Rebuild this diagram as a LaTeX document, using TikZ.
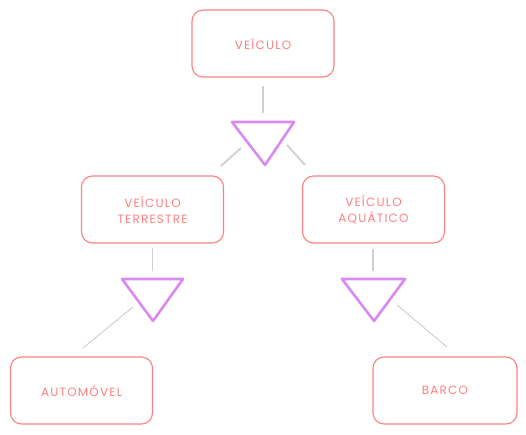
\documentclass[tikz,border=0pt]{standalone}
\usepackage{fontspec}
\setmainfont{Poppins}[LetterSpace=10]
\definecolor{boxred}{HTML}{FF7F7F}
\definecolor{trivio}{HTML}{D88AF2}
\definecolor{lgray}{HTML}{CFCFCF}
\tikzset{
  box/.style={draw=boxred, line width=1.1pt, rounded corners=11pt, minimum width=142pt, minimum height=67pt, inner sep=0pt, text=boxred, font=\fontsize{12}{16}\selectfont, align=center},
  tri/.style={draw=trivio, line width=2.6pt, line join=round},
  conn/.style={draw=lgray, line width=1.8pt},
  thinconn/.style={draw=lgray, line width=1pt}
}
\begin{document}
\begin{tikzpicture}[x=1pt,y=-1pt]
\useasboundingbox (0,0) rectangle (526,434);
% boxes
\node[box] (veic) at (263,43.5) {VEÍCULO};
\node[box] (terr) at (152.5,209.5) {VEÍCULO\\TERRESTRE};
\node[box] (aqua) at (373.5,209.5) {VEÍCULO\\AQUÁTICO};
\node[box] (auto) at (81.5,390.5) {AUTOMÓVEL};
\node[box, minimum width=144pt] (barco) at (445,390.5) {BARCO};
% triangles
\coordinate (t1a) at (232,122); \coordinate (t1b) at (294,122); \coordinate (t1c) at (265,165);
\draw[tri] (t1a) -- (t1b) -- (t1c) -- cycle;
\coordinate (t2a) at (122,279); \coordinate (t2b) at (183,279); \coordinate (t2c) at (153,321);
\draw[tri] (t2a) -- (t2b) -- (t2c) -- cycle;
\coordinate (t3a) at (342,279); \coordinate (t3b) at (405,279); \coordinate (t3c) at (374,321);
\draw[tri] (t3a) -- (t3b) -- (t3c) -- cycle;
% connectors
\coordinate (c1s) at (263,86); \coordinate (c1e) at (263,113);
\draw[conn] (c1s) -- (c1e);
\coordinate (c2s) at (241,148); \coordinate (c2e) at (221,166);
\draw[conn] (c2s) -- (c2e);
\coordinate (c3s) at (287,145); \coordinate (c3e) at (305,165);
\draw[conn] (c3s) -- (c3e);
\coordinate (c4s) at (152,248); \coordinate (c4e) at (152,271);
\draw[thinconn] (c4s) -- (c4e);
\coordinate (c5s) at (373,249); \coordinate (c5e) at (373,271);
\draw[conn] (c5s) -- (c5e);
\coordinate (c6s) at (133,307); \coordinate (c6e) at (83,348);
\draw[thinconn] (c6s) -- (c6e);
\coordinate (c7s) at (397,305); \coordinate (c7e) at (447,347);
\draw[thinconn] (c7s) -- (c7e);
\end{tikzpicture}
\end{document}
